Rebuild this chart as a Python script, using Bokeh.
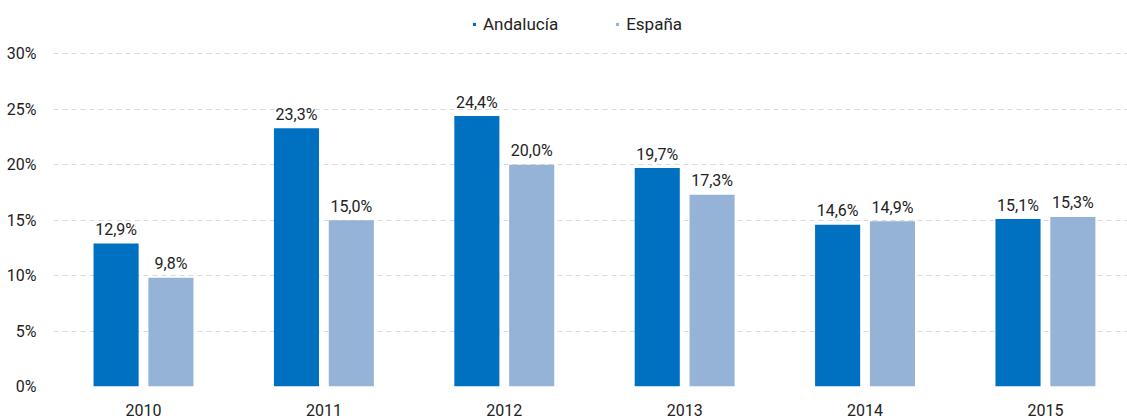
from bokeh.plotting import figure
from bokeh.models import ColumnDataSource, FixedTicker, PrintfTickFormatter, Legend, LegendItem, Range1d
from bokeh.transform import dodge
from bokeh.core.properties import value
from bokeh.embed import file_html
from bokeh.resources import INLINE

years = ["2010", "2011", "2012", "2013", "2014", "2015"]
andalucia = [12.9, 23.3, 24.4, 19.7, 14.6, 15.1]
espana = [9.8, 15.0, 20.0, 17.3, 14.9, 15.3]
y_ticks = [0, 5, 10, 15, 20, 25, 30]

C_AND = "#0070C0"
C_ESP = "#95B3D7"
TXT = "#222222"
FONT = "Roboto"

def fmt(v):
    return f"{v:.1f}".replace(".", ",") + "%"

idx = list(range(len(years)))
src = ColumnDataSource(dict(
    idx=idx,
    andalucia=andalucia,
    espana=espana,
    and_lbl=[fmt(v) for v in andalucia],
    esp_lbl=[fmt(v) for v in espana],
))

p = figure(width=1127, height=419, output_backend="svg", toolbar_location=None,
           x_range=Range1d(-0.499, 5.455), y_range=Range1d(0, 34.1),
           min_border_left=53, min_border_right=0, min_border_top=8, min_border_bottom=33)
p.outline_line_color = None
p.background_fill_color = "white"
p.border_fill_color = "white"

off = 0.152
r_and = p.vbar(x=dodge("idx", -off, range=p.x_range), top="andalucia", width=0.25,
               source=src, fill_color=C_AND, line_color=None)
r_esp = p.vbar(x=dodge("idx", off, range=p.x_range), top="espana", width=0.25,
               source=src, fill_color=C_ESP, line_color=None)

for col, lbl, o in (("andalucia", "and_lbl", -off), ("espana", "esp_lbl", off)):
    p.text(x=dodge("idx", o, range=p.x_range), y=col, text=lbl, source=src,
           text_align="center", text_baseline="alphabetic", y_offset=-14,
           text_font=value(FONT), text_font_size="16px", text_color=TXT)

# axes
p.xaxis.ticker = FixedTicker(ticks=idx)
p.xaxis.major_label_overrides = {i: y for i, y in zip(idx, years)}
p.yaxis.ticker = FixedTicker(ticks=y_ticks)
p.yaxis.formatter = PrintfTickFormatter(format="%d%%")
for ax in (p.xaxis, p.yaxis):
    ax.axis_line_color = None
    ax.major_tick_line_color = None
    ax.minor_tick_line_color = None
    ax.major_tick_in = 0
    ax.major_tick_out = 0
    ax.major_label_text_font = FONT
    ax.major_label_text_font_size = "16px"
    ax.major_label_text_color = TXT
p.yaxis.major_label_standoff = 17
p.xaxis.major_label_standoff = 17

p.xgrid.grid_line_color = None
p.ygrid.grid_line_color = "#d9d9d9"
p.ygrid.grid_line_dash = "5 4"
p.ygrid.grid_line_width = 1

legend = Legend(items=[LegendItem(label="Andalucía", renderers=[r_and]),
                       LegendItem(label="España", renderers=[r_esp])],
                orientation="horizontal", location=(419, 352),
                glyph_width=4, glyph_height=4, label_standoff=7, spacing=57,
                padding=0, margin=0, border_line_color=None, background_fill_alpha=0,
                label_text_font=FONT, label_text_font_size="17px", label_text_color=TXT,
                label_height=20)
p.add_layout(legend, "center")

open("out.html", "w").write(file_html(p, INLINE))
